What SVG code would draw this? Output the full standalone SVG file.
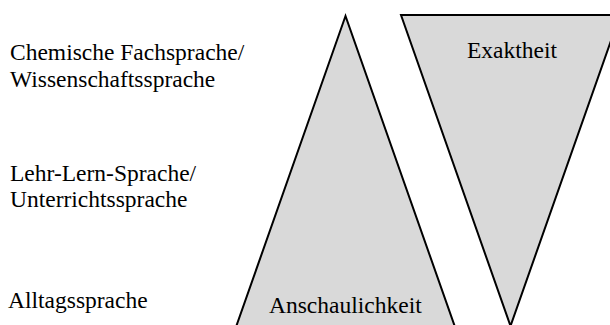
<svg xmlns="http://www.w3.org/2000/svg" width="610" height="325" viewBox="0 0 610 325">
  <style>
    .lbl { font-family: "Liberation Serif", "Times New Roman", serif; font-size: 23.5px; fill: #000; }
    .tri { fill: #d9d9d9; stroke: #000; stroke-width: 2; stroke-linejoin: miter; }
  </style>
  <rect width="610" height="325" fill="#fff"/>

  <!-- language levels -->
  <g id="level-fachsprache">
    <text class="lbl" x="10" y="60">Chemische Fachsprache/</text>
    <text class="lbl" x="10" y="87">Wissenschaftssprache</text>
  </g>
  <g id="level-unterrichtssprache">
    <text class="lbl" x="10" y="181">Lehr-Lern-Sprache/</text>
    <text class="lbl" x="10" y="207">Unterrichtssprache</text>
  </g>
  <g id="level-alltagssprache">
    <text class="lbl" x="8" y="308">Alltagssprache</text>
  </g>

  <!-- rising triangle: clarity grows toward everyday language -->
  <g id="anschaulichkeit">
    <polygon class="tri" points="345.5,16 236,327 455,327"/>
    <text class="lbl" x="269" y="313">Anschaulichkeit</text>
  </g>

  <!-- inverted triangle: precision grows toward technical language -->
  <g id="exaktheit">
    <polygon class="tri" points="401,15 620,15 510.5,326"/>
    <text class="lbl" x="467" y="57.5">Exaktheit</text>
  </g>
</svg>
